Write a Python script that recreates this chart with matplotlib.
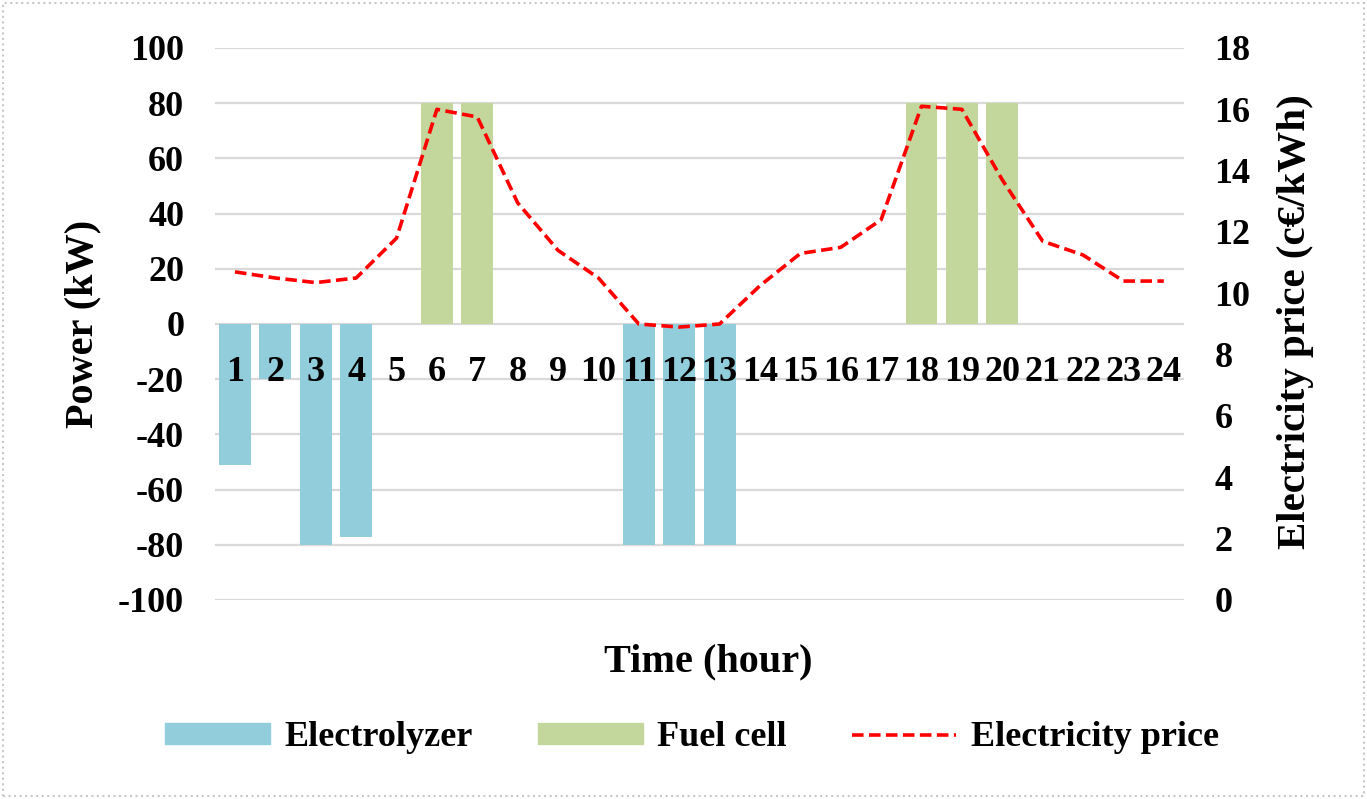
import numpy as np
import matplotlib
matplotlib.use("Agg")
import matplotlib.pyplot as plt
from matplotlib.patches import Rectangle, Patch
from matplotlib.lines import Line2D

plt.rcParams['font.family'] = ['Liberation Serif', 'DejaVu Serif']
plt.rcParams['font.weight'] = 'bold'
plt.rcParams['axes.unicode_minus'] = False

# data
hours = list(range(1, 25))
electrolyzer = [-51, -20, -80, -77, 0, 0, 0, 0, 0, 0, -80, -80, -80,
                0, 0, 0, 0, 0, 0, 0, 0, 0, 0, 0]
fuel_cell = [0, 0, 0, 0, 0, 80, 80, 0, 0, 0, 0, 0, 0,
             0, 0, 0, 0, 80, 80, 80, 0, 0, 0, 0]
price = [10.7, 10.5, 10.35, 10.5, 11.8, 16.0, 15.75, 12.95, 11.4, 10.5,
         9.0, 8.9, 9.0, 10.25, 11.3, 11.5, 12.4, 16.1, 16.0, 13.7,
         11.7, 11.25, 10.4, 10.4]
power_ticks = list(range(-100, 101, 20))
price_ticks = list(range(0, 19, 2))

c_el = '#92CDDC'
c_fc = '#C3D69B'
c_pr = '#FF0000'
fs = 26

fig = plt.figure(figsize=(13.67, 7.99), dpi=100)
ax = fig.add_axes([214.8 / 1367, 1 - 600 / 799, (1184 - 214.8) / 1367, 552 / 799])

ax.bar(hours, electrolyzer, width=0.79, color=c_el, zorder=2)
ax.bar(hours, fuel_cell, width=0.79, color=c_fc, zorder=2)
ax.set_xlim(0.5, 24.5)
ax.set_ylim(-100, 100)
ax.grid(axis='y', color='#D9D9D9', linewidth=1.6)
ax.set_axisbelow(True)
for s in ax.spines.values():
    s.set_visible(False)
ax.spines['bottom'].set_position(('data', 0))

ax2 = ax.twinx()
ax2.plot(hours, price, color=c_pr, linewidth=2.6, linestyle=(0, (3.2, 1.5)),
         dash_capstyle='butt', zorder=3)
ax2.set_ylim(0, 18)
for s in ax2.spines.values():
    s.set_visible(False)

ax.set_xticks(hours)
ax.set_xticklabels([str(h) for h in hours])
ax.set_yticks(power_ticks)
ax.set_yticklabels([str(t) for t in power_ticks])
ax2.set_yticks(price_ticks)
ax2.set_yticklabels([str(t) for t in price_ticks])
ax.tick_params(axis='x', length=0, pad=23, labelsize=fs)
ax.tick_params(axis='y', length=0, pad=22, labelsize=fs)
ax2.tick_params(axis='y', length=0, pad=22, labelsize=fs)
# hour labels sit on top of the bars, gridlines stay behind
ax.xaxis.set_zorder(5)

# axis titles
fig.text(83 / 1367, 1 - 324 / 799, 'Power (kW)', rotation=90, ha='center', va='center',
         fontsize=29, fontweight='bold')
fig.text(1295 / 1367, 1 - 322 / 799, 'Electricity price (c€/kWh)', rotation=90,
         ha='center', va='center', fontsize=29.5, fontweight='bold')
fig.text(708 / 1367, 1 - 662 / 799, 'Time (hour)', ha='center', va='center',
         fontsize=29, fontweight='bold')

handles = [Patch(color=c_el), Patch(color=c_fc),
           Line2D([], [], color=c_pr, linewidth=2.6, linestyle=(0, (3.2, 1.5)))]
fig.legend(handles, ['Electrolyzer', 'Fuel cell', 'Electricity price'],
           loc='center', bbox_to_anchor=(692 / 1367, 1 - 738 / 799), ncol=3,
           frameon=False, prop={'size': 26, 'weight': 'bold'},
           handlelength=2.9, handleheight=0.5, handletextpad=0.4, columnspacing=1.8)

# dotted frame around the picture
fig.patches.append(Rectangle((3 / 1367, 3 / 799), 1 - 6 / 1367, 1 - 6 / 799,
                             transform=fig.transFigure, fill=False,
                             edgecolor='#C8C8C8', linestyle=':', linewidth=1.5))

fig.savefig('out.png', dpi=100)
